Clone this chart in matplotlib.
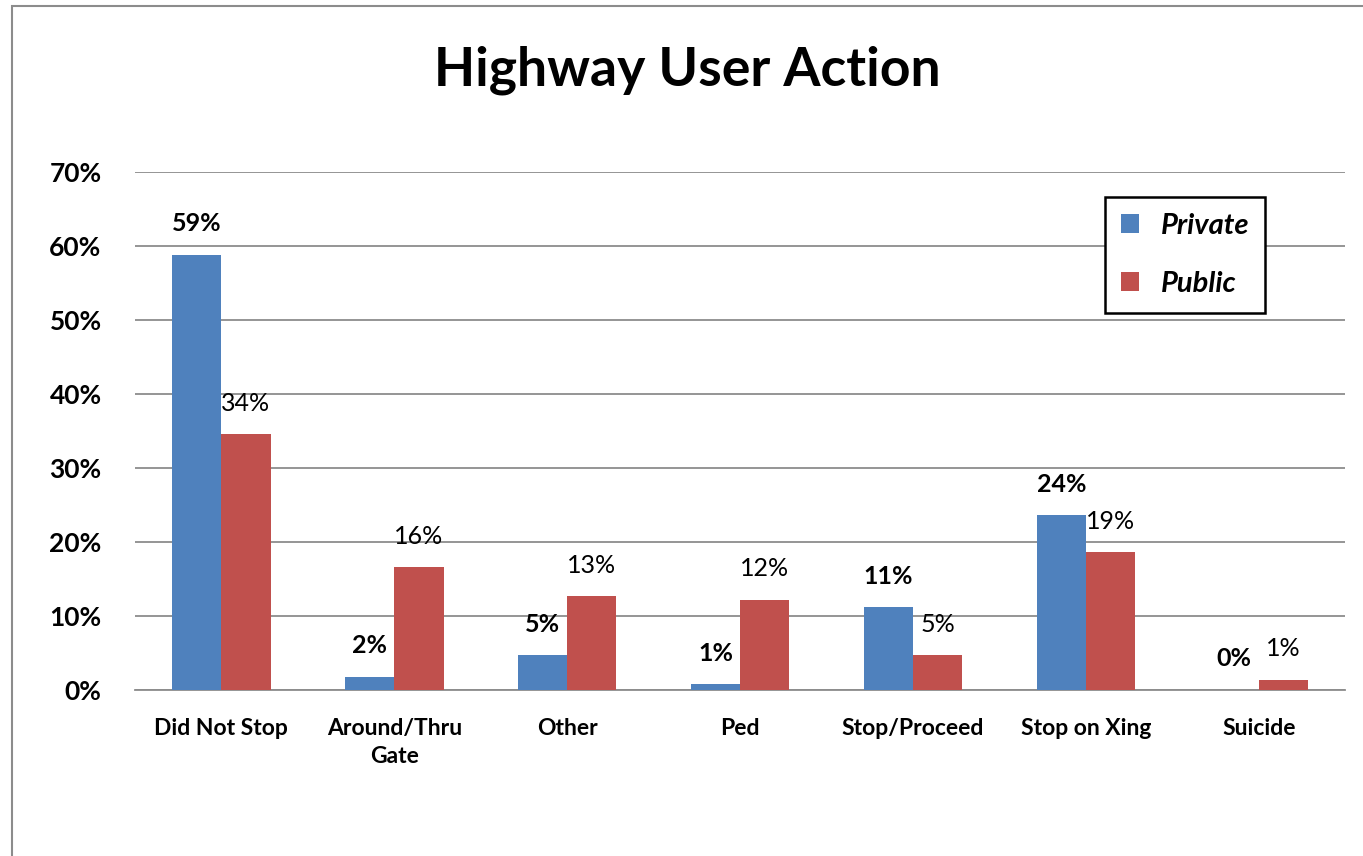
import numpy as np
import matplotlib
matplotlib.use("Agg")
import matplotlib.pyplot as plt
from matplotlib.patches import Rectangle
from matplotlib.ticker import PercentFormatter

categories = ["Did Not Stop", "Around/Thru\nGate", "Other", "Ped",
              "Stop/Proceed", "Stop on Xing", "Suicide"]
private = [58.8, 1.8, 4.7, 0.8, 11.2, 23.6, 0.0]
public = [34.6, 16.6, 12.7, 12.2, 4.7, 18.6, 1.4]
private_labels = ["59%", "2%", "5%", "1%", "11%", "24%", "0%"]
public_labels = ["34%", "16%", "13%", "12%", "5%", "19%", "1%"]

plt.rcParams["font.family"] = ["Lato", "DejaVu Sans"]

fig = plt.figure(figsize=(13.63, 8.56), dpi=100)
ax = fig.add_axes([0.099, 0.194, 0.888, 0.605])

x = np.arange(len(categories))
width = 0.285
blue, red = "#4f81bd", "#c0504d"
b1 = ax.bar(x - width/2, private, width, color=blue, label="Private", zorder=3)
b2 = ax.bar(x + width/2, public, width, color=red, label="Public", zorder=3)

for rect, lab in zip(b1, private_labels):
    ax.annotate(lab, (rect.get_x() + rect.get_width()/2, rect.get_height()),
                xytext=(0, 14), textcoords="offset points", ha="center",
                va="bottom", fontsize=18, fontweight="bold")
for rect, lab in zip(b2, public_labels):
    ax.annotate(lab, (rect.get_x() + rect.get_width()/2, rect.get_height()),
                xytext=(0, 14), textcoords="offset points", ha="center",
                va="bottom", fontsize=18)

ax.set_xlim(-0.5, len(categories) - 0.5)
ax.set_ylim(0, 70)
ax.set_yticks(np.arange(0, 71, 10))
ax.yaxis.set_major_formatter(PercentFormatter(decimals=0))
ax.set_xticks(x)
ax.set_xticklabels(categories, fontsize=16.5, fontweight="bold", linespacing=1.45)
for t in ax.get_yticklabels():
    t.set_fontsize(19)
    t.set_fontweight("bold")
ax.tick_params(axis="y", length=0, pad=24)
ax.tick_params(axis="x", length=0, pad=20)
ax.grid(axis="y", color="#8c8c8c", linewidth=1.3, zorder=0)
for s in ["left", "right", "top"]:
    ax.spines[s].set_visible(False)
ax.spines["bottom"].set_color("#8c8c8c")
ax.spines["bottom"].set_linewidth(1.3)

leg = ax.legend(loc="upper right", bbox_to_anchor=(0.934, 0.952), borderaxespad=0,
                fancybox=False, framealpha=1, edgecolor="black",
                handlelength=0.6, handleheight=0.6, labelspacing=1.1,
                borderpad=0.55, handletextpad=0.75,
                prop={"size": 21, "weight": "bold", "style": "italic"})
leg.get_frame().set_linewidth(1.8)

fig.text(0.504, 0.918, "Highway User Action", ha="center", va="center",
         fontsize=38.5, fontweight="bold")

fig.patches.append(Rectangle((12/1363, -0.01), 1.1, 1 - 6/856 + 0.01,
                             transform=fig.transFigure, fill=False,
                             edgecolor="#8c8c8c", linewidth=1.5))

fig.savefig("out.png", dpi=100)
